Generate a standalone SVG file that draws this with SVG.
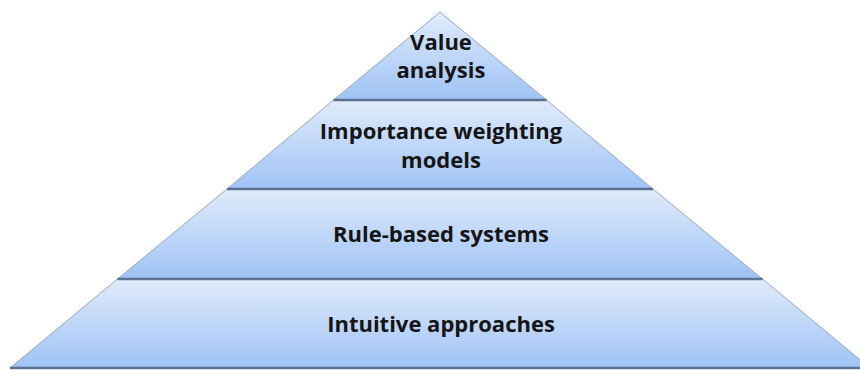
<svg xmlns="http://www.w3.org/2000/svg" width="860" height="370" viewBox="0 0 860 370">
  <defs>
    <linearGradient id="g" x1="0" y1="0" x2="0" y2="1">
      <stop offset="0" stop-color="#e0ebfb"/>
      <stop offset="1" stop-color="#9fc3f5"/>
    </linearGradient>
    <style>
      .layer { fill: url(#g); stroke: #9aa6b8; stroke-width: 1; }
      .div { stroke: #5d7091; stroke-width: 2.5; }
      .lbl { font-family: "Open Sans", "Liberation Sans", sans-serif; font-weight: bold; font-size: 22px; fill: #151515; text-anchor: middle; }
    </style>
  </defs>
  <rect width="860" height="370" fill="#ffffff"/>
  <g id="layer-value">
    <polygon class="layer" points="440,12 546.5,100 333.5,100"/>
    <text class="lbl" x="441" y="50">Value</text>
    <text class="lbl" x="441" y="78">analysis</text>
  </g>
  <g id="layer-importance">
    <polygon class="layer" points="333.5,100 546.5,100 653,189 227,189"/>
    <text class="lbl" x="441" y="139">Importance weighting</text>
    <text class="lbl" x="441" y="168">models</text>
  </g>
  <g id="layer-rule">
    <polygon class="layer" points="227,189 653,189 762.5,279 117.5,279"/>
    <text class="lbl" x="441" y="242">Rule-based systems</text>
  </g>
  <g id="layer-intuitive">
    <polygon class="layer" points="117.5,279 762.5,279 870,368 10,368"/>
    <text class="lbl" x="441" y="332">Intuitive approaches</text>
  </g>
  <g id="connectors">
    <line class="div" x1="333.5" y1="100" x2="546.5" y2="100"/>
    <line class="div" x1="227" y1="189" x2="653" y2="189"/>
    <line class="div" x1="117.5" y1="279" x2="762.5" y2="279"/>
    <line class="div" x1="10" y1="368" x2="870" y2="368"/>
  </g>
</svg>
